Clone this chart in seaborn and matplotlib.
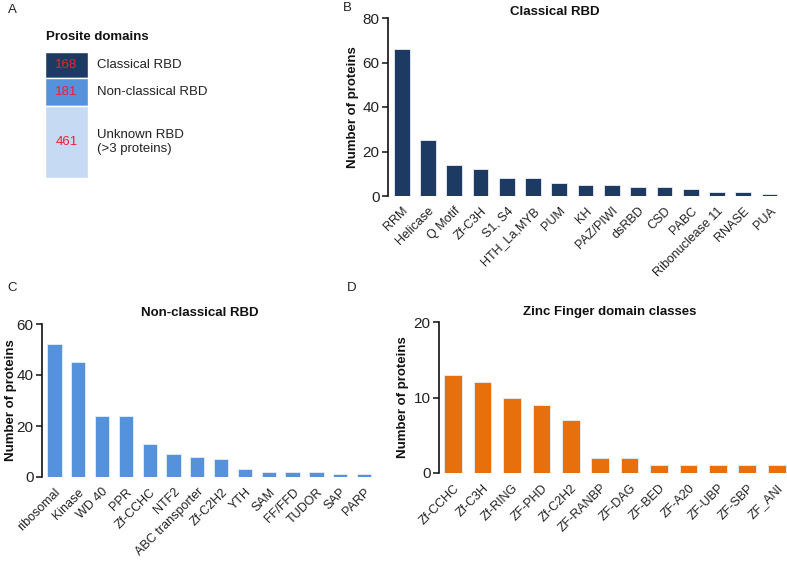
import matplotlib
matplotlib.use("Agg")
import matplotlib.pyplot as plt
import numpy as np
import pandas as pd
import seaborn as sns

# panel A: prosite domain totals
prosite_labels = ["Classical RBD", "Non-classical RBD", "Unknown RBD\n(>3 proteins)"]
prosite_counts = [168, 181, 461]

# panel B
classical_names = ["RRM", "Helicase", "Q Motif", "Zf-C3H", "S1, S4", "HTH_La,MYB", "PUM", "KH",
                   "PAZ/PIWI", "dsRBD", "CSD", "PABC", "Ribonuclease 11", "RNASE", "PUA"]
classical_counts = [66, 25, 14, 12, 8, 8, 6, 5, 5, 4, 4, 3, 2, 2, 1]

# panel C
nonclassical_names = ["ribosomal", "Kinase", "WD 40", "PPR", "Zf-CCHC", "NTF2", "ABC transporter",
                      "Zf-C2H2", "YTH", "SAM", "FF/FFD", "TUDOR", "SAP", "PARP"]
nonclassical_counts = [52, 45, 24, 24, 13, 9, 8, 7, 3, 2, 2, 2, 1, 1]

# panel D
zinc_names = ["Zf-CCHC", "Zf-C3H", "Zf-RING", "ZF-PHD", "Zf-C2H2", "ZF-RANBP", "ZF-DAG",
              "ZF-BED", "ZF-A20", "ZF-UBP", "ZF-SBP", "ZF_ANI"]
zinc_counts = [13, 12, 10, 9, 7, 2, 2, 1, 1, 1, 1, 1]

navy = "#1d3a63"
blue = "#5592db"
light = "#c6dbf3"
orange = "#e8700c"

sns.set_style("white")
plt.rcParams["font.family"] = ["Liberation Sans", "DejaVu Sans"]

W, H = 787, 562
fig = plt.figure(figsize=(W / 100, H / 100), dpi=100)


def box(x0, y0, x1, y1):
    # pixel box (top-left origin) -> figure fraction
    return [x0 / W, 1 - y1 / H, (x1 - x0) / W, (y1 - y0) / H]


def bar_panel(ax, names, counts, color, ymax, step, title, xlim, title_xy, ylab_x):
    df = pd.DataFrame({"name": names, "count": counts})
    sns.barplot(data=df, x="name", y="count", color=color, width=0.6, saturation=1,
                edgecolor="#e8eef6", linewidth=0.6, ax=ax)
    ax.set_ylim(0, ymax)
    ax.set_xlim(*xlim)
    ax.set_yticks(np.arange(0, ymax + 1, step))
    ax.set_xlabel("")
    ax.set_ylabel("Number of proteins", fontsize=9.5, fontweight="bold", color="#111111")
    # y label right edge at a pixel x position
    x0 = ax.get_position().x0 * W
    x1 = ax.get_position().x1 * W
    ax.yaxis.set_label_coords((ylab_x - x0) / (x1 - x0), 0.5)
    fig.text(title_xy[0] / W, 1 - title_xy[1] / H, title, fontsize=9.5, fontweight="bold",
             color="#111111", ha="center", va="center")
    sns.despine(ax=ax, bottom=True)
    ax.spines["left"].set_color("#111111")
    ax.spines["left"].set_linewidth(1.2)
    ax.tick_params(axis="y", left=True, length=4, width=1.2, labelsize=11, colors="#222222", pad=2)
    ax.tick_params(axis="x", bottom=False, labelsize=9, labelcolor="#222222", pad=3)
    plt.setp(ax.get_xticklabels(), rotation=45, ha="right", rotation_mode="anchor")


# panel A
ax_a = fig.add_axes(box(45, 52, 88, 178))
bottoms = np.concatenate([[0], np.cumsum(prosite_counts)[:-1]])
ax_a.bar([0, 0, 0], prosite_counts, bottom=bottoms, width=1.0,
         color=[navy, blue, light], edgecolor="white", linewidth=1)
ax_a.set_xlim(-0.5, 0.5)
ax_a.set_ylim(sum(prosite_counts), 0)
ax_a.axis("off")
for b, c, lab in zip(bottoms, prosite_counts, prosite_labels):
    mid = b + c / 2
    ax_a.text(0, mid, str(c), color="#ee2030", ha="center", va="center", fontsize=9.5)
    ax_a.text(0.7, mid, lab, color="#222222", ha="left", va="center", fontsize=9.5,
              clip_on=False, linespacing=1.25)
fig.text(46 / W, 1 - 37 / H, "Prosite domains", fontsize=9.5, fontweight="bold",
         color="#111111", va="center")

# panel B
ax_b = fig.add_axes(box(388, 18, 780, 196))
bar_panel(ax_b, classical_names, classical_counts, navy, 80, 20, "Classical RBD",
          (-0.52, 14.4), (555, 12), 359)

# panel C
ax_c = fig.add_axes(box(42, 324, 376, 477))
bar_panel(ax_c, nonclassical_names, nonclassical_counts, blue, 60, 20, "Non-classical RBD",
          (-0.52, 13.5), (200, 313), 17)

# panel D
ax_d = fig.add_axes(box(439, 322, 787, 473))
bar_panel(ax_d, zinc_names, zinc_counts, orange, 20, 10, "Zinc Finger domain classes",
          (-0.48, 11.35), (610, 312), 409)

for x, y, letter in [(12, 10, "A"), (347, 8, "B"), (12, 288, "C"), (352, 288, "D")]:
    fig.text(x / W, 1 - y / H, letter, fontsize=9.5, color="#222222", va="center", ha="center")

fig.savefig("out.png", dpi=100)
